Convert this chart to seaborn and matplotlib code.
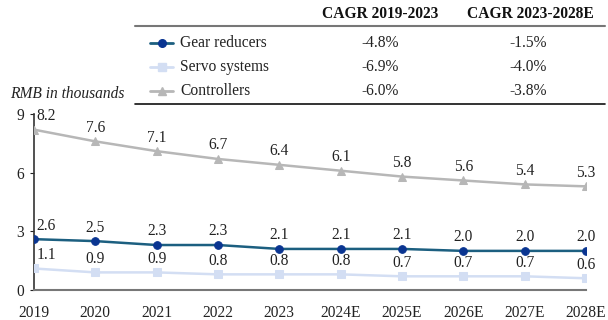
import matplotlib
matplotlib.use("Agg")
import matplotlib.pyplot as plt
import seaborn as sns
import pandas as pd
from matplotlib.lines import Line2D

years = ["2019", "2020", "2021", "2022", "2023", "2024E", "2025E", "2026E", "2027E", "2028E"]
gear = [2.6, 2.5, 2.3, 2.3, 2.1, 2.1, 2.1, 2.0, 2.0, 2.0]
servo = [1.1, 0.9, 0.9, 0.8, 0.8, 0.8, 0.7, 0.7, 0.7, 0.6]
ctrl = [8.2, 7.6, 7.1, 6.7, 6.4, 6.1, 5.8, 5.6, 5.4, 5.3]
series_names = ["Gear reducers", "Servo systems", "Controllers"]
cagr_hist = ["-4.8%", "-6.9%", "-6.0%"]
cagr_fcst = ["-1.5%", "-4.0%", "-3.8%"]
headers = ["CAGR 2019-2023", "CAGR 2023-2028E"]
yticks = [0, 3, 6, 9]

sns.set_theme(style="white")
plt.rcParams["font.family"] = ["Liberation Serif", "DejaVu Serif"]

W, H = 608, 320
fig = plt.figure(figsize=(W / 100, H / 100), dpi=100)
ax = fig.add_axes([34 / W, 1 - 290 / H, (586 - 34) / W, (290 - 114) / H])

xs = list(range(len(years)))
df = pd.DataFrame({"x": xs * 3,
                   "v": gear + servo + ctrl,
                   "s": sum([[n] * len(years) for n in series_names], [])})

line_cols = {"Gear reducers": "#1c5f80", "Servo systems": "#d3def3", "Controllers": "#b7b7b7"}
mark_cols = {"Gear reducers": "#0a3591", "Servo systems": "#d3def3", "Controllers": "#b7b7b7"}
markers = {"Gear reducers": "o", "Servo systems": "s", "Controllers": "^"}
msize = {"Gear reducers": 5.5, "Servo systems": 5.5, "Controllers": 6}
fs = 11.2

for name in series_names:
    sub = df[df.s == name]
    sns.lineplot(data=sub, x="x", y="v", ax=ax, color=line_cols[name], lw=1.8, legend=False,
                 marker=markers[name], markersize=msize[name],
                 markerfacecolor=mark_cols[name], markeredgecolor=mark_cols[name], zorder=3)
    for i, v in zip(sub.x, sub.v):
        ha = "left" if i == 0 else "center"
        dx = 2 if i == 0 else 0
        ax.annotate(f"{v:.1f}", (i, v), xytext=(dx, 4), textcoords="offset points",
                    ha=ha, va="bottom", fontsize=fs, color="#222222")

ax.set_xlim(0, len(years) - 1)
ax.set_ylim(0, 9)
ax.set_yticks(yticks)
ax.set_xticks(xs)
ax.set_xticklabels(years)
ax.set_xlabel("")
ax.set_ylabel("")
ax.tick_params(axis="both", labelsize=fs, colors="#222222", length=3, width=0.8)
ax.tick_params(axis="x", length=0, pad=11)
ax.tick_params(axis="y", left=True, pad=4)
for sp in ["top", "right"]:
    ax.spines[sp].set_visible(False)
ax.spines["left"].set_color("#333333")
ax.spines["left"].set_linewidth(1.2)
ax.spines["bottom"].set_color("#777777")
ax.spines["bottom"].set_linewidth(1.5)
ax.set_facecolor("none")

fig.text(10 / W, 1 - 94 / H, "RMB in thousands", style="italic", fontsize=fs,
         ha="left", va="center", color="#222222")

# table lines
fig.add_artist(Line2D([135 / W, 605 / W], [1 - 26 / H] * 2, color="#777777", lw=1.5))
fig.add_artist(Line2D([135 / W, 605 / W], [1 - 104 / H] * 2, color="#111111", lw=1.2))

hx = [380, 530]
for h, x in zip(headers, hx):
    fig.text(x / W, 1 - 14 / H, h, fontsize=fs, fontweight="bold", ha="center",
             va="center", color="#111111")

rows_y = [43, 67, 91]
for name, y, a, b in zip(series_names, rows_y, cagr_hist, cagr_fcst):
    yy = 1 - y / H
    fig.add_artist(Line2D([150 / W, 173 / W], [yy, yy], color=line_cols[name], lw=2))
    fig.add_artist(Line2D([161.5 / W], [yy], marker=markers[name], markersize=msize[name],
                          color=mark_cols[name], lw=0))
    fig.text(180 / W, yy, name, fontsize=fs, ha="left", va="center", color="#222222")
    fig.text(380 / W, yy, a, fontsize=fs, ha="center", va="center", color="#222222")
    fig.text(528 / W, yy, b, fontsize=fs, ha="center", va="center", color="#222222")

fig.savefig("out.png", dpi=100)
